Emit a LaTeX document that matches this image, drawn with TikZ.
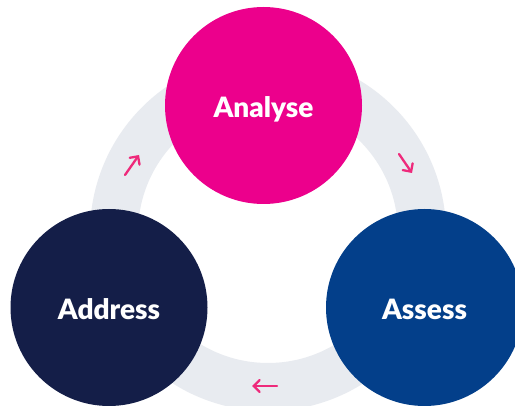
\documentclass[tikz,border=0pt]{standalone}
\usepackage{fontspec}
\setmainfont{Lato}[BoldFont={Lato Black}]
\usetikzlibrary{arrows.meta}
\definecolor{ringgray}{HTML}{E8EBF0}
\definecolor{pinkA}{HTML}{EC008C}
\definecolor{navyA}{HTML}{141E48}
\definecolor{blueA}{HTML}{033F8A}
\definecolor{arrowpink}{HTML}{EE2A7B}
\begin{document}
\begin{tikzpicture}[x=1pt,y=-1pt,
  stage/.style={circle,minimum size=197pt,inner sep=0pt,text=white,text height=25pt,text depth=0pt,font=\fontsize{28}{32}\selectfont\bfseries},
  flow/.style={arrowpink,line width=2.3pt,line cap=round,-{Straight Barb[length=6pt,width=12pt,line cap=round]}}]
\useasboundingbox (0,0) rectangle (515,406);
\fill[white] (0,0) rectangle (515,406);
\coordinate (ringc) at (268,233);
\draw[ringgray,line width=48pt] (ringc) circle (154);
\node[stage,fill=pinkA] (analyse) at (263.5,105.5) {Analyse};
\node[stage,fill=navyA] (address) at (109,307.5) {Address};
\node[stage,fill=blueA] (assess) at (424.5,307.5) {Assess};
\coordinate (a1s) at (125,175);
\coordinate (a1e) at (139,155);
\coordinate (a2s) at (399,154);
\coordinate (a2e) at (412,173);
\coordinate (a3s) at (277,386);
\coordinate (a3e) at (252,386);
\draw[flow] (a1s) -- (a1e);
\draw[flow] (a2s) -- (a2e);
\draw[flow] (a3s) -- (a3e);
\end{tikzpicture}
\end{document}
